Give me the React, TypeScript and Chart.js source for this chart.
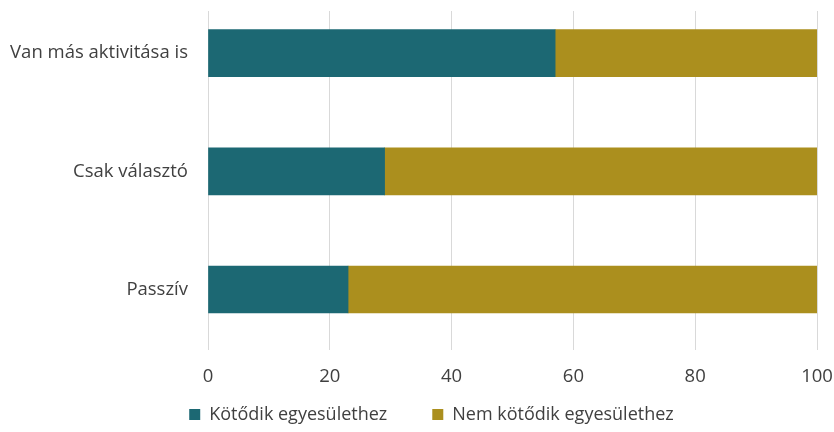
import React, { useEffect, useRef } from "react";
import { Chart, registerables } from "chart.js";

Chart.register(...registerables);

const categories = ["Van más aktivitása is", "Csak választó", "Passzív"];
const kotodik = [57, 29, 23];
const nemKotodik = [43, 71, 77];
const xTicks = [0, 20, 40, 60, 80, 100];
const seriesNames = ["Kötődik egyesülethez", "Nem kötődik egyesülethez"];

const legendShift = {
  id: "legendShift",
  afterLayout(chart: any) {
    const lg = chart.legend;
    if (lg) {
      const h = lg.bottom - lg.top;
      lg.left += 19;
      lg.right += 19;
      lg.top = 360.4;
      lg.bottom = lg.top + h;
    }
  },
};

export default function App() {
  const ref = useRef<HTMLCanvasElement | null>(null);
  useEffect(() => {
    document.body.style.margin = "0";
    const font = "'Open Sans', sans-serif";
    const textColor = "#404040";
    const chart = new Chart(ref.current as HTMLCanvasElement, {
      type: "bar",
      data: {
        datasets: [
          {
            label: seriesNames[0],
            data: kotodik.map((v, i) => ({ x: v, y: i })),
            backgroundColor: "#1c6873",
            barThickness: 47,
          },
          {
            label: seriesNames[1],
            data: nemKotodik.map((v, i) => ({ x: v, y: i })),
            backgroundColor: "#ab8f1e",
            barThickness: 47,
          },
        ],
      },
      plugins: [legendShift],
      options: {
        indexAxis: "y",
        animation: false,
        responsive: false,
        devicePixelRatio: 1,
        layout: { padding: { left: 8, right: 17, top: 11, bottom: -35.6 } },
        scales: {
          x: {
            type: "linear",
            stacked: true,
            min: 0,
            max: 100,
            afterBuildTicks: (scale: any) => {
              scale.ticks = xTicks.map((v) => ({ value: v }));
            },
            grid: { color: "#d9d9d9", drawTicks: false, lineWidth: 1 },
            border: { display: false },
            ticks: {
              padding: 16,
              color: textColor,
              font: { family: font, size: 18.5 },
            },
            afterFit: (scale: any) => {
              scale.height = 45;
              scale.paddingLeft = 0;
              scale.paddingRight = 0;
            },
          },
          y: {
            type: "linear",
            stacked: true,
            reverse: true,
            offset: false,
            min: -0.356,
            max: 2.508,
            afterBuildTicks: (scale: any) => {
              scale.ticks = categories.map((_, i) => ({ value: i }));
            },
            grid: { display: false, drawTicks: false, offset: false },
            border: { display: false },
            ticks: {
              padding: 20,
              color: textColor,
              font: { family: font, size: 18.5 },
              callback: (v: any) => categories[v] ?? "",
            },
            afterFit: (scale: any) => {
              scale.width = 200;
              scale.paddingTop = 0;
              scale.paddingBottom = 0;
            },
          },
        },
        plugins: {
          legend: {
            position: "bottom",
            labels: {
              color: textColor,
              font: { family: font, size: 18 },
              boxWidth: 11,
              boxHeight: 11,
              padding: 45,
            },
          },
          tooltip: { enabled: false },
        },
      },
    });
    return () => chart.destroy();
  }, []);
  return <canvas ref={ref} width={834} height={432} style={{ display: "block" }} />;
}
